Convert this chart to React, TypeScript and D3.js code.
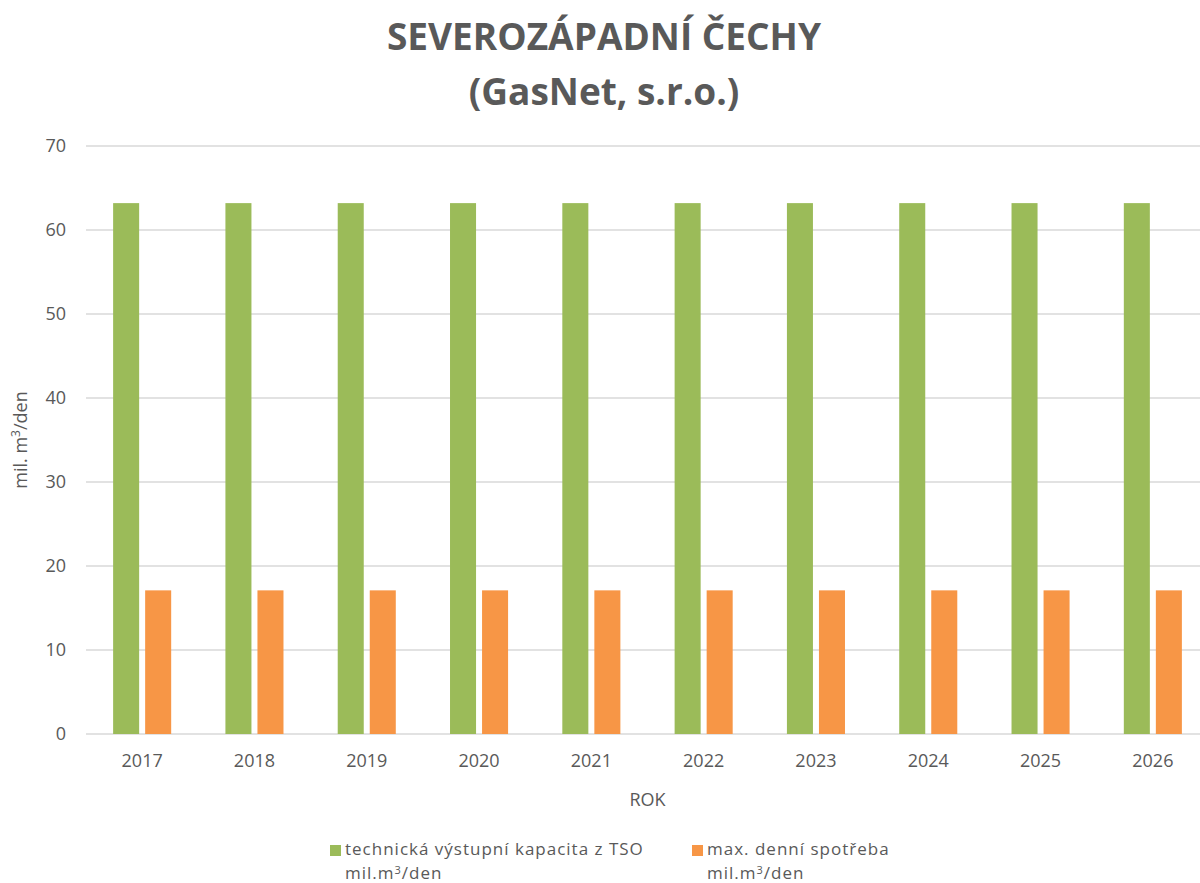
import { useRef, useEffect } from "react";
import * as d3 from "d3";

const years = ["2017", "2018", "2019", "2020", "2021", "2022", "2023", "2024", "2025", "2026"];
const kapacita = [63.2, 63.2, 63.2, 63.2, 63.2, 63.2, 63.2, 63.2, 63.2, 63.2];
const spotreba = [17.1, 17.1, 17.1, 17.1, 17.1, 17.1, 17.1, 17.1, 17.1, 17.1];
const seriesNames = ["technická výstupní kapacita z TSO", "max. denní spotřeba"];
const seriesColors = ["#9bbb59", "#f79646"];
const yTicks = [0, 10, 20, 30, 40, 50, 60, 70];

export default function App() {
  const ref = useRef<SVGSVGElement>(null);

  useEffect(() => {
    const width = 1200;
    const height = 883;
    const font = "'Open Sans', sans-serif";
    const textColor = "#595959";
    const svg = d3.select(ref.current);
    svg.selectAll("*").remove();
    svg
      .attr("width", width)
      .attr("height", height)
      .style("position", "absolute")
      .style("left", "0px")
      .style("top", "0px")
      .style("background", "#fff");

    const left = 86, right = 1209, top = 146, bottom = 734;

    const x = d3.scaleBand().domain(years).range([left, right]).paddingInner(0.483).paddingOuter(0.2415);
    const x1 = d3.scaleBand().domain(["0", "1"]).range([0, x.bandwidth()]).paddingInner(0.1875);
    const y = d3.scaleLinear().domain([0, 70]).range([bottom, top]);

    // mřížka
    svg.append("g")
      .selectAll("line")
      .data(yTicks)
      .enter()
      .append("line")
      .attr("x1", left)
      .attr("x2", right)
      .attr("y1", (d) => y(d))
      .attr("y2", (d) => y(d))
      .attr("stroke", "#d9d9d9")
      .attr("stroke-width", 1.3);

    // popisky osy y
    svg.append("g")
      .selectAll("text")
      .data(yTicks)
      .enter()
      .append("text")
      .attr("x", 66)
      .attr("y", (d) => y(d))
      .attr("dy", "0.35em")
      .attr("text-anchor", "end")
      .style("font-family", font)
      .style("font-size", "18px")
      .style("fill", textColor)
      .text((d) => d);

    // sloupce
    const rows = years.map((yr, i) => ({ yr, vals: [kapacita[i], spotreba[i]] }));
    const groups = svg.append("g")
      .selectAll("g")
      .data(rows)
      .enter()
      .append("g")
      .attr("transform", (d) => `translate(${x(d.yr)},0)`);

    groups.selectAll("rect")
      .data((d) => d.vals.map((v, k) => ({ v, k })))
      .enter()
      .append("rect")
      .attr("x", (d) => x1(String(d.k))!)
      .attr("width", x1.bandwidth())
      .attr("y", (d) => y(d.v))
      .attr("height", (d) => bottom - y(d.v))
      .attr("fill", (d) => seriesColors[d.k]);

    // popisky osy x
    svg.append("g")
      .selectAll("text")
      .data(years)
      .enter()
      .append("text")
      .attr("x", (d) => x(d)! + x.bandwidth() / 2)
      .attr("y", 767)
      .attr("text-anchor", "middle")
      .style("font-family", font)
      .style("font-size", "18px")
      .style("fill", textColor)
      .text((d) => d);

    // názvy os
    svg.append("text")
      .attr("x", (left + right) / 2)
      .attr("y", 806)
      .attr("text-anchor", "middle")
      .style("font-family", font)
      .style("font-size", "18px")
      .style("fill", textColor)
      .text("ROK");

    const yl = svg.append("text")
      .attr("transform", `translate(27,${(top + bottom) / 2}) rotate(-90)`)
      .attr("text-anchor", "middle")
      .style("font-family", font)
      .style("font-size", "18px")
      .style("fill", textColor);
    yl.append("tspan").text("mil. m");
    yl.append("tspan").attr("dy", -7).style("font-size", "12px").text("3");
    yl.append("tspan").attr("dy", 7).text("/den");

    // titulek
    const title = svg.append("text")
      .attr("text-anchor", "middle")
      .style("font-family", font)
      .style("font-size", "37px")
      .style("font-weight", "bold")
      .style("fill", textColor);
    title.append("tspan").attr("x", 604).attr("y", 50).text("SEVEROZÁPADNÍ ČECHY");
    title.append("tspan").attr("x", 604).attr("y", 105).text("(GasNet, s.r.o.)");

    // legenda
    const legendX = [330, 692];
    const leg = svg.append("g")
      .selectAll("g")
      .data(seriesNames)
      .enter()
      .append("g")
      .attr("transform", (d, i) => `translate(${legendX[i]},0)`);
    leg.append("rect")
      .attr("x", 0)
      .attr("y", 845)
      .attr("width", 11)
      .attr("height", 11)
      .attr("fill", (d, i) => seriesColors[i]);
    leg.append("text")
      .attr("x", 15)
      .attr("y", 855)
      .style("font-family", font)
      .style("font-size", "17px")
      .style("letter-spacing", "1px")
      .style("fill", textColor)
      .text((d) => d);
    const lt = leg.append("text")
      .attr("x", 15)
      .attr("y", 879)
      .style("font-family", font)
      .style("font-size", "17px")
      .style("letter-spacing", "1px")
      .style("fill", textColor);
    lt.append("tspan").text("mil.m");
    lt.append("tspan").attr("dy", -5).style("font-size", "11px").text("3");
    lt.append("tspan").attr("dy", 5).text("/den");
  }, []);

  return <svg ref={ref}></svg>;
}
